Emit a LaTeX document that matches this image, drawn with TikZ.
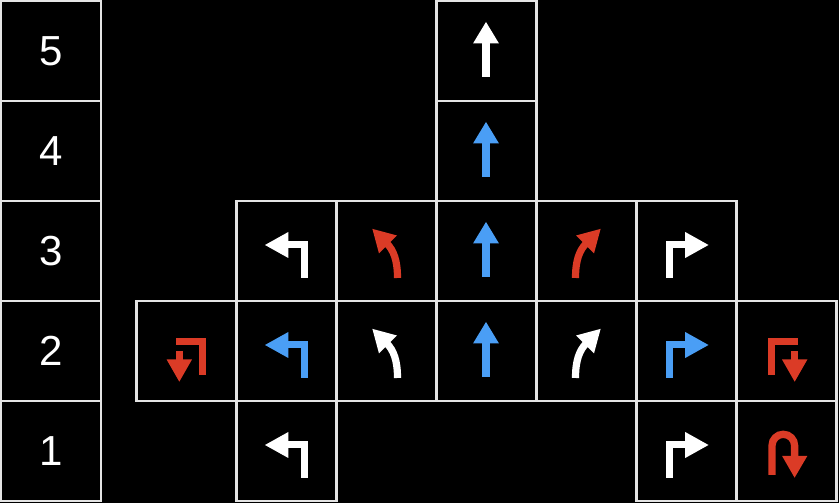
\documentclass[tikz,border=0pt]{standalone}
\usepackage{fontspec}
\setmainfont{Liberation Sans}
\definecolor{ared}{HTML}{DB3B26}
\definecolor{ablue}{HTML}{4A9EF5}
\definecolor{gridcol}{HTML}{E4E4E4}
\tikzset{
  cell/.style={draw=gridcol, line width=2.2pt, minimum size=100pt, inner sep=0pt, fill=black},
  lbl/.style={text=white, font=\fontsize{42}{42}\selectfont},
  straightarr/.pic={
    \draw[line width=7.2pt] (0,-27) -- (0,7);
    \fill (-13,6.5) -- (0,28) -- (13,6.5) -- cycle;},
  leftturn/.pic={
    \draw[line width=7pt, line join=miter] (18,-28) -- (18,5) -- (1,5);
    \fill (2.3,18) -- (-21,5) -- (2.3,-8) -- cycle;},
  bearleft/.pic={
    \draw[line width=7.2pt] (11.5,-28) .. controls (11.5,-10) and (7.5,-0.5) .. (1,6.5);
    \fill (-13.6,21.1) -- (11,14.5) -- (-7,-3.5) -- cycle;},
  turnback/.pic={
    \draw[line width=7.2pt, line join=miter] (16.3,-25) -- (16.3,8.7) -- (-10.3,8.7);
    \draw[line width=6.7pt] (-6.7,-1) -- (-6.7,-10);
    \fill (-19.5,-9.3) -- (6.1,-9.3) -- (-6.7,-31.7) -- cycle;},
  uturn/.pic={
    \draw[line width=7.3pt] (-14,-25) -- (-14,4.4) arc[start angle=180,end angle=0,radius=11.3] -- (8.6,-7);
    \fill (-3.9,-6) -- (21.3,-6) -- (8.6,-27.7) -- cycle;},
  adj/.style={shift={(-0.5,1)}}
}
\begin{document}
\begin{tikzpicture}[x=1pt,y=1pt]
\fill[black] (0,0) rectangle (839,503);
\useasboundingbox (0,0) rectangle (839,503);
% left column
\node[cell,lbl] (L5) at (51,452) {5};
\node[cell,lbl] (L4) at (51,352) {4};
\node[cell,lbl] (L3) at (51,252) {3};
\node[cell,lbl] (L2) at (51,152) {2};
\node[cell,lbl] (L1) at (51,52) {1};
% row 5 and 4
\node[cell] (c53) at (486.5,452) {};
\node[cell] (c43) at (486.5,352) {};
% row 3
\node[cell] (c31) at (286.5,252) {};
\node[cell] (c32) at (386.5,252) {};
\node[cell] (c33) at (486.5,252) {};
\node[cell] (c34) at (586.5,252) {};
\node[cell] (c35) at (686.5,252) {};
% row 2
\node[cell] (c20) at (186.5,152) {};
\node[cell] (c21) at (286.5,152) {};
\node[cell] (c22) at (386.5,152) {};
\node[cell] (c23) at (486.5,152) {};
\node[cell] (c24) at (586.5,152) {};
\node[cell] (c25) at (686.5,152) {};
\node[cell] (c26) at (786.5,152) {};
% row 1
\node[cell] (c11) at (286.5,52) {};
\node[cell] (c15) at (686.5,52) {};
\node[cell] (c16) at (786.5,52) {};
% arrows
\pic[adj, color=white] at (c53) {straightarr};
\pic[adj, color=ablue] at (c43) {straightarr};
\pic[adj, color=white] at (c31) {leftturn};
\pic[adj, color=ared] at (c32) {bearleft};
\pic[adj, color=ablue] at (c33) {straightarr};
\pic[adj, shift={(1,0)}, xscale=-1, color=ared] at (c34) {bearleft};
\pic[adj, shift={(1.5,0)}, xscale=-1, color=white] at (c35) {leftturn};
\pic[adj, color=ared] at (c20) {turnback};
\pic[adj, color=ablue] at (c21) {leftturn};
\pic[adj, color=white] at (c22) {bearleft};
\pic[adj, color=ablue] at (c23) {straightarr};
\pic[adj, shift={(1,0)}, xscale=-1, color=white] at (c24) {bearleft};
\pic[adj, shift={(1.5,0)}, xscale=-1, color=ablue] at (c25) {leftturn};
\pic[adj, shift={(2,0)}, xscale=-1, color=ared] at (c26) {turnback};
\pic[adj, color=white] at (c11) {leftturn};
\pic[adj, shift={(1.5,0)}, xscale=-1, color=white] at (c15) {leftturn};
\pic[adj, color=ared] at (c16) {uturn};
\end{tikzpicture}
\end{document}
